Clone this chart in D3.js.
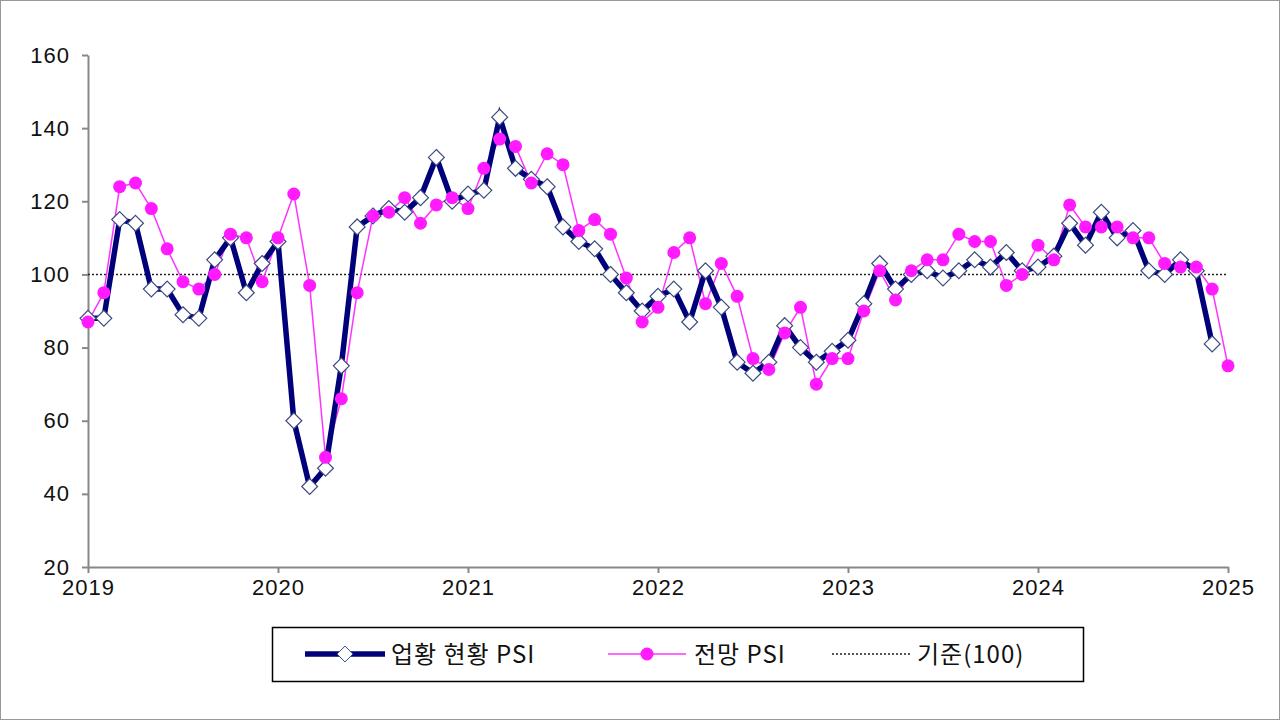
<!DOCTYPE html>
<html><head><meta charset="utf-8">
<script src="https://cdn.jsdelivr.net/npm/d3@7"></script>
<style>body{margin:0;background:#fff}svg{display:block}</style>
</head><body><svg id="c" width="1280" height="720"></svg>
<script>
// monthly values, Jan 2019 onward
var current = [88,88,115,114,96,96,89,88,104,110,95,103,
  109,60,42,47,75,113,116,118,117,121,132,120,
  122,123,143,129,126,124,113,109,107,100,95,90,
  94,96,87,101,91,76,73,76,86,80,76,79,
  82,92,103,96,100,101,99,101,104,102,106,101,
  102,105,114,108,117,110,112,101,100,104,101,81];
var outlook = [87,95,124,125,118,107,98,96,100,111,110,98,
  110,122,97,50,66,95,116,117,121,114,119,121,
  118,129,137,135,125,133,130,112,115,111,99,87,
  91,106,110,92,103,94,77,74,84,91,70,77,
  77,90,101,93,101,104,104,111,109,109,97,100,
  108,104,119,113,113,113,110,110,103,102,102,96,75];
var yTicks = [20,40,60,80,100,120,140,160];
var years = [2019,2020,2021,2022,2023,2024,2025];
var legendLabels = ["업황 현황 PSI","전망 PSI","기준(100)"];

var svg = d3.select("#c");
svg.append("rect").attr("x",0.5).attr("y",0.5).attr("width",1279).attr("height",719)
  .attr("fill","#fff").attr("stroke","#999");

var x = d3.scaleLinear().domain([0,72]).range([88,1228]);
var y = d3.scaleLinear().domain([20,160]).range([567,55]);

var yAxis = svg.append("g").attr("transform","translate(88,0)")
  .call(d3.axisLeft(y).tickValues(yTicks).tickSize(6).tickSizeOuter(0).tickPadding(12));
yAxis.selectAll("text").attr("font-size",22);
var xAxis = svg.append("g").attr("transform","translate(0,567)")
  .call(d3.axisBottom(x).tickValues(years.map(function(d,i){return i*12;}))
    .tickFormat(function(d,i){return years[i];}).tickSize(6).tickSizeOuter(0).tickPadding(6));
xAxis.selectAll("text").attr("font-size",22);
svg.selectAll(".domain,.tick line").attr("stroke","#888").attr("stroke-width",2);
svg.selectAll(".tick text").attr("font-family","Liberation Sans, Arial").attr("fill","#111")
  .attr("letter-spacing",1);

svg.append("line").attr("x1",88).attr("x2",1228).attr("y1",y(100)).attr("y2",y(100))
  .attr("stroke","#222").attr("stroke-width",1.5).attr("stroke-dasharray","2,2");

var line = d3.line().x(function(d,i){return x(i);}).y(function(d){return y(d);});
svg.append("path").datum(outlook).attr("d",line).attr("fill","none")
  .attr("stroke","#ff33ff").attr("stroke-width",1.5);
svg.append("path").datum(current).attr("d",line).attr("fill","none")
  .attr("stroke","#00007a").attr("stroke-width",5.5);
var diamond = d3.symbol().type(d3.symbolDiamond2).size(160);
svg.selectAll(".dm").data(current).enter().append("path")
  .attr("transform",function(d,i){return "translate("+x(i)+","+y(d)+")";})
  .attr("d",diamond).attr("fill","#fff").attr("stroke","#3a4a80").attr("stroke-width",1.2);
svg.selectAll(".ci").data(outlook).enter().append("circle")
  .attr("cx",function(d,i){return x(i);}).attr("cy",function(d){return y(d);})
  .attr("r",6.5).attr("fill","#ff1aff");

// legend
var lg = svg.append("g");
lg.append("rect").attr("x",272.5).attr("y",627.5).attr("width",811).attr("height",54)
  .attr("fill","#fff").attr("stroke","#000").attr("stroke-width",1.5);
lg.append("line").attr("x1",305).attr("x2",385).attr("y1",654).attr("y2",654).attr("stroke","#00007a").attr("stroke-width",5.5);
lg.append("path").attr("transform","translate(345,654)").attr("d",diamond).attr("fill","#fff").attr("stroke","#3a4a80");
lg.append("line").attr("x1",608).attr("x2",686).attr("y1",654).attr("y2",654).attr("stroke","#ff33ff").attr("stroke-width",1.5);
lg.append("circle").attr("cx",647).attr("cy",654).attr("r",6.5).attr("fill","#ff1aff");
lg.append("line").attr("x1",832).attr("x2",910).attr("y1",654).attr("y2",654).attr("stroke","#222").attr("stroke-width",1.5).attr("stroke-dasharray","2,2");
lg.selectAll("text").data(legendLabels).enter().append("text")
  .attr("x",function(d,i){return [391,694,917][i];}).attr("y",663)
  .attr("font-size",24).attr("letter-spacing",1).attr("font-family","Noto Sans CJK KR, sans-serif").attr("fill","#111")
  .text(function(d){return d;});
</script></body></html>
